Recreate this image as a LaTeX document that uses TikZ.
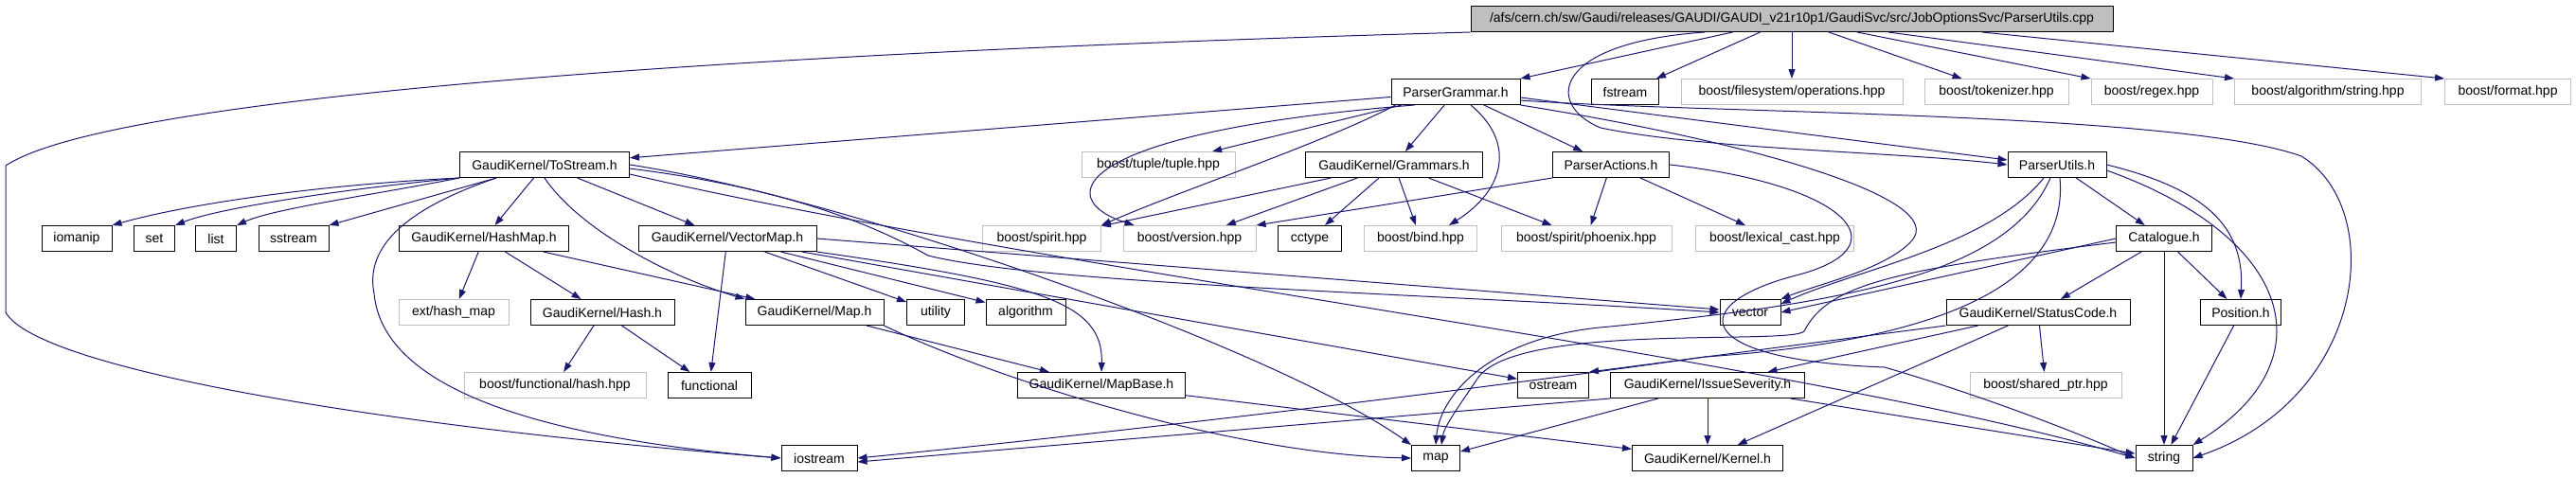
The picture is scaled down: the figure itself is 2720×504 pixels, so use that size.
\documentclass[tikz,border=0pt]{standalone}
\usepackage{fontspec}
\setmainfont{Liberation Sans}
\usepackage{tikz}
\usetikzlibrary{arrows.meta}
\definecolor{dkblue}{RGB}{25,25,112}
\definecolor{lgray}{RGB}{191,191,191}
\newcommand{\dxfont}{\fontsize{14}{16}\selectfont}
\tikzset{
  file/.style={draw=black, line width=1pt, minimum height=27, inner sep=0pt, font=\dxfont},
  ext/.style={file, draw=lgray},
  root/.style={file, fill=lgray},
  inc/.style={draw=dkblue, line width=1pt, -{Triangle[length=10pt,width=7pt]}, dkblue}
}

\begin{document}
\begin{tikzpicture}[x=1pt, y=-1pt]
   \useasboundingbox (0,0) rectangle (2720,504);
   % the file itself
   \node[root, minimum width=678] (cpp) at (1892,20) {/afs/cern.ch/sw/Gaudi/releases/GAUDI/GAUDI\_v21r10p1/GaudiSvc/src/JobOptionsSvc/ParserUtils.cpp};
   % row 1
   \node[file, minimum width=136] (pgram) at (1537,97) {ParserGrammar.h};
   \node[file, minimum width=71] (fstrm) at (1716,97) {fstream};
   \node[ext, minimum width=234] (fsops) at (1892,97) {boost/filesystem/operations.hpp};
   \node[ext, minimum width=152] (tokz) at (2108,97) {boost/tokenizer.hpp};
   \node[ext, minimum width=128] (regx) at (2272,97) {boost/regex.hpp};
   \node[ext, minimum width=197] (algstr) at (2458,97) {boost/algorithm/string.hpp};
   \node[ext, minimum width=133] (fmt) at (2648,97) {boost/format.hpp};
   % row 2
   \node[file, minimum width=179] (tostream) at (575,174) {GaudiKernel/ToStream.h};
   \node[ext, minimum width=162] (tuple) at (1223,174) {boost/tuple/tuple.hpp};
   \node[file, minimum width=187] (gramm) at (1472,174) {GaudiKernel/Grammars.h};
   \node[file, minimum width=123] (pact) at (1701,174) {ParserActions.h};
   \node[file, minimum width=104] (putilh) at (2172,174) {ParserUtils.h};
   % row 3
   \node[file, minimum width=74] (iomanip) at (81,252) {iomanip};
   \node[file, minimum width=43] (stlset) at (163,252) {set};
   \node[file, minimum width=43] (stllist) at (228,252) {list};
   \node[file, minimum width=74] (sstream) at (310,252) {sstream};
   \node[file, minimum width=179] (hashmap) at (511,252) {GaudiKernel/HashMap.h};
   \node[file, minimum width=188] (vecmap) at (768,252) {GaudiKernel/VectorMap.h};
   \node[ext, minimum width=125] (spirit) at (1100,252) {boost/spirit.hpp};
   \node[ext, minimum width=140] (version) at (1256,252) {boost/version.hpp};
   \node[file, minimum width=67] (cctype) at (1383,252) {cctype};
   \node[ext, minimum width=119] (bind) at (1500,252) {boost/bind.hpp};
   \node[ext, minimum width=180] (phoenix) at (1675,252) {boost/spirit/phoenix.hpp};
   \node[ext, minimum width=167] (lexcast) at (1874,252) {boost/lexical\_cast.hpp};
   \node[file, minimum width=101] (catal) at (2285,252) {Catalogue.h};
   % row 4
   \node[ext, minimum width=116] (exthash) at (479,330) {ext/hash\_map};
   \node[file, minimum width=152] (hash) at (636,330) {GaudiKernel/Hash.h};
   \node[file, minimum width=146] (gkmap) at (860,330) {GaudiKernel/Map.h};
   \node[file, minimum width=61] (utility) at (988,330) {utility};
   \node[file, minimum width=84] (algo) at (1083,330) {algorithm};
   \node[file, minimum width=64] (vector) at (1848,330) {vector};
   \node[file, minimum width=194] (statcode) at (2152,330) {GaudiKernel/StatusCode.h};
   \node[file, minimum width=85] (position) at (2366,330) {Position.h};
   % row 5
   \node[ext, minimum width=192] (funchash) at (586,407) {boost/functional/hash.hpp};
   \node[file, minimum width=88] (functional) at (749,407) {functional};
   \node[file, minimum width=177] (mapbase) at (1163,407) {GaudiKernel/MapBase.h};
   \node[file, minimum width=75] (ostream) at (1640,407) {ostream};
   \node[file, minimum width=205] (issue) at (1803,407) {GaudiKernel/IssueSeverity.h};
   \node[ext, minimum width=160] (sharedptr) at (2160,407) {boost/shared\_ptr.hpp};
   % row 6
   \node[file, minimum width=80] (iostream) at (865,484) {iostream};
   \node[file, minimum width=51] (stlmap) at (1516,484) {map};
   \node[file, minimum width=159] (kernel) at (1803,484) {GaudiKernel/Kernel.h};
   \node[file, minimum width=60] (string) at (2285,484) {string};

   % includes of the cpp
   \draw[inc] ([xshift=277pt]cpp.south west) -- (pgram.north east);
   \draw[inc] ([xshift=306pt]cpp.south west) -- ([xshift=-3pt]fstrm.north east);
   \draw[inc] (cpp) -- (fsops);
   \draw[inc] ([xshift=39pt]cpp.south) -- ([xshift=40pt]tokz.north west);
   \draw[inc] ([xshift=69pt]cpp.south) -- (regx.north west);
   \draw[inc] ([xshift=102pt]cpp.south) -- (algstr.north west);
   \draw[inc] ([xshift=201pt]cpp.south) -- (fmt.north west);
   \draw[inc] ([xshift=-92pt]cpp.south) .. controls (1640,45) and (1630,110) .. (1690,135) .. controls (1800,158) and (2000,160) .. (putilh.west);
   \draw[inc] (cpp.south west) .. controls (800,55) and (120,100) .. (6,175) -- (6,330) .. controls (40,390) and (400,450) .. (iostream.west);
   % ParserGrammar.h
   \draw[inc] (pgram) -- (tostream);
   \draw[inc] (pgram) -- (tuple);
   \draw[inc] ([xshift=25pt]pgram.south west) .. controls (1130,140) and (1110,210) .. ([xshift=12pt]version.north west);
   \draw[inc] ([xshift=5pt]pgram.south west) .. controls (1400,150) and (1250,200) .. (spirit.north east);
   \draw[inc] (pgram) -- (gramm);
   \draw[inc] ([xshift=16pt]pgram.south) .. controls (1600,150) and (1590,200) .. ([xshift=-30pt]bind.north east);
   \draw[inc] (pgram) -- (pact);
   \draw[inc] ([yshift=-6pt]pgram.east) -- ([yshift=5pt]putilh.west);
   \draw[inc] (pgram.south east) .. controls (1850,150) and (2060,210) .. (2018,255) .. controls (1990,285) and (1920,300) .. (vector.north east);
   \draw[inc] ([yshift=-9pt]pgram.east) .. controls (1800,120) and (2300,118) .. (2430,165) .. controls (2520,220) and (2500,420) .. (string.east);
   % GaudiKernel/ToStream.h
   \draw[inc] (tostream.south west) .. controls (340,195) and (200,215) .. (iomanip.north east);
   \draw[inc] (tostream.south west) .. controls (360,200) and (230,220) .. (stlset.north east);
   \draw[inc] (tostream.south west) .. controls (400,205) and (290,220) .. (stllist.north east);
   \draw[inc] ([xshift=39pt]tostream.south west) -- (sstream.north east);
   \draw[inc] ([xshift=39pt]tostream.south west) .. controls (430,220) and (385,260) .. (395,310) .. controls (405,420) and (600,465) .. (iostream.west);
   \draw[inc] (tostream) -- (hashmap);
   \draw[inc] (tostream) -- (vecmap);
   \draw[inc] (tostream.south) .. controls (610,240) and (700,290) .. (gkmap.north west);
   \draw[inc] (tostream.east) .. controls (900,210) and (1350,370) .. (stlmap.north west);
   \draw[inc] ([yshift=-4pt]tostream.east) .. controls (800,195) and (900,225) .. (980,270) .. controls (1100,300) and (1500,310) .. (vector.west);
   \draw[inc] ([yshift=-10pt]tostream.east) .. controls (1100,285) and (1900,380) .. (string.west);
   % GaudiKernel/HashMap.h, Hash.h
   \draw[inc] (hashmap) -- (exthash);
   \draw[inc] (hashmap) -- (hash);
   \draw[inc] (hashmap) -- (gkmap);
   \draw[inc] (hash) -- (funchash);
   \draw[inc] (hash) -- (functional);
   % GaudiKernel/VectorMap.h
   \draw[inc] (vecmap) -- (utility);
   \draw[inc] (vecmap) -- (algo);
   \draw[inc] (vecmap) -- (functional);
   \draw[inc] (vecmap.east) -- ([yshift=3pt]vector.west);
   \draw[inc] (vecmap) -- (ostream);
   \draw[inc] (vecmap.south east) .. controls (1100,300) and (1165,320) .. (mapbase.north);
   % GaudiKernel/Map.h, MapBase.h
   \draw[inc] (gkmap) -- (mapbase);
   \draw[inc] (gkmap.south east) .. controls (1050,400) and (1300,480) .. (stlmap.west);
   \draw[inc] (mapbase) -- (kernel);
   % GaudiKernel/Grammars.h
   \draw[inc] (gramm) -- (spirit);
   \draw[inc] (gramm) -- (version);
   \draw[inc] (gramm) -- (cctype);
   \draw[inc] (gramm) -- (bind);
   \draw[inc] (gramm) -- (phoenix);
   % ParserActions.h
   \draw[inc] (pact.south west) -- (version.north east);
   \draw[inc] (pact) -- (phoenix);
   \draw[inc] (pact) -- (lexcast);
   \draw[inc] (pact.east) .. controls (1950,195) and (2010,260) .. (1900,290) .. controls (1780,320) and (1780,380) .. (1990,388) .. controls (2100,420) and (2200,460) .. (string.west);
   % ParserUtils.h
   \draw[inc] (putilh) -- (catal);
   \draw[inc] (putilh.east) .. controls (2330,200) and (2370,240) .. (position.north);
   \draw[inc] ([yshift=-6pt]putilh.east) .. controls (2420,250) and (2460,380) .. (string.north east);
   \draw[inc] ([xshift=-14pt]putilh.south) .. controls (2100,260) and (1960,285) .. ([yshift=-5pt]vector.north east);
   \draw[inc] ([xshift=-7pt]putilh.south) .. controls (2120,290) and (1950,320) .. (1700,345) .. controls (1570,355) and (1520,420) .. (stlmap.north);
   \draw[inc] ([xshift=3pt]putilh.south) .. controls (2185,300) and (2050,360) .. (1800,377) .. controls (1500,420) and (1100,465) .. (iostream.east);
   % Catalogue.h
   \draw[inc] (catal) -- (statcode);
   \draw[inc] (catal) -- (position);
   \draw[inc] (catal) -- (string);
   \draw[inc] (catal.west) -- (vector.east);
   \draw[inc] ([yshift=-4pt]catal.west) .. controls (2000,285) and (1930,300) .. (1905,350) .. controls (1890,365) and (1600,340) .. (1560,400) .. controls (1540,430) and (1525,450) .. ([xshift=6pt]stlmap.north);
   % GaudiKernel/StatusCode.h, IssueSeverity.h, Position.h
   \draw[inc] (statcode.south west) -- (ostream.north east);
   \draw[inc] (statcode) -- (issue);
   \draw[inc] (statcode) -- (kernel);
   \draw[inc] (statcode) -- (sharedptr);
   \draw[inc] (issue.south west) -- ([yshift=-4pt]iostream.east);
   \draw[inc] (issue) -- (stlmap);
   \draw[inc] (issue) -- (kernel);
   \draw[inc] (issue) -- (string);
   \draw[inc] (position) -- (string);
\end{tikzpicture}
\end{document}
